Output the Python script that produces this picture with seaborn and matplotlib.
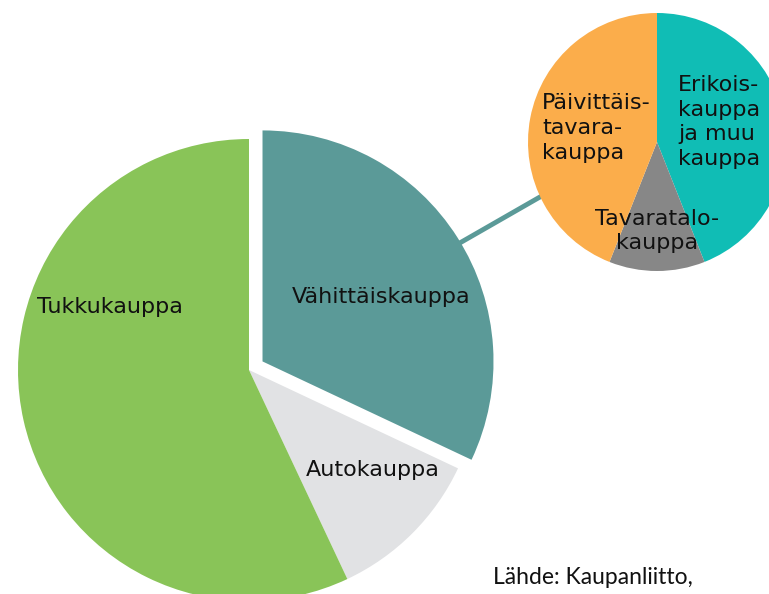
import numpy as np
import matplotlib
matplotlib.use("Agg")
import matplotlib.pyplot as plt
import seaborn as sns

sns.set_theme(style="white")
plt.rcParams['font.family'] = ['DejaVu Sans']

# Main pie data (clockwise from top)
main_labels = ["Vähittäiskauppa", "Autokauppa", "Tukkukauppa"]
main_values = [32, 11, 57]
main_colors = ["#5B9A98", "#E1E2E4", "#89C458"]

# Breakdown of Vähittäiskauppa (clockwise from top)
sub_labels = ["Erikois-\nkauppa\nja muu\nkauppa", "Tavaratalo-\nkauppa", "Päivittäis-\ntavara-\nkauppa"]
sub_values = [44, 12, 44]
sub_colors = ["#10BDB5", "#878787", "#FBAD4B"]

source_text = "Lähde: Kaupanliitto,"

fig = plt.figure(figsize=(7.69, 5.94), dpi=100)
ax = fig.add_axes([0, 0, 1, 1])

main_center = (249, 224)
main_r = 231
explode_dist = 16  # matplotlib pie explode is in data units
wedges, _ = ax.pie(main_values, colors=main_colors, startangle=90, counterclock=False,
                   center=main_center, radius=main_r, explode=[explode_dist, 0, 0],
                   wedgeprops=dict(linewidth=0), frame=True)

sub_center = (657, 452)
sub_r = 129
wedges2, _ = ax.pie(sub_values, colors=sub_colors, startangle=90, counterclock=False,
                    center=sub_center, radius=sub_r,
                    wedgeprops=dict(linewidth=0), frame=True)
ax.set_xlim(0, 769)
ax.set_ylim(0, 594)
ax.set_aspect("equal")
ax.axis("off")

# connector line from exploded wedge to the breakdown pie
tc = wedges[0].center
a1 = np.deg2rad(31)
a2 = np.deg2rad(205)
p1 = (tc[0] + (main_r - 4) * np.cos(a1), tc[1] + (main_r - 4) * np.sin(a1))
p2 = (sub_center[0] + (sub_r - 4) * np.cos(a2), sub_center[1] + (sub_r - 4) * np.sin(a2))
ax.plot([p1[0], p2[0]], [p1[1], p2[1]], color=main_colors[0],
        lw=3.5, zorder=0.5, solid_capstyle="butt")

fs = 16
ax.text(110, 287, main_labels[2], fontsize=fs, ha="center", va="center", color="#111111")
ax.text(381, 297, main_labels[0], fontsize=fs, ha="center", va="center", color="#111111")
ax.text(373, 124, main_labels[1], fontsize=fs, ha="center", va="center", color="#111111")

ax.text(542, 466, sub_labels[2], fontsize=fs, ha="left", va="center", color="#111111",
        linespacing=1.32)
ax.text(678, 472, sub_labels[0], fontsize=fs, ha="left", va="center", color="#111111",
        linespacing=1.3)
ax.text(657, 363, sub_labels[1], fontsize=fs, ha="center", va="center", color="#111111",
        multialignment="center", linespacing=1.25)

ax.text(493, 16, source_text, fontsize=16.5, ha="left", va="center", color="#111111",
        family=["Lato", "DejaVu Sans"], fontweight="normal")

fig.savefig("out.png", dpi=100)
